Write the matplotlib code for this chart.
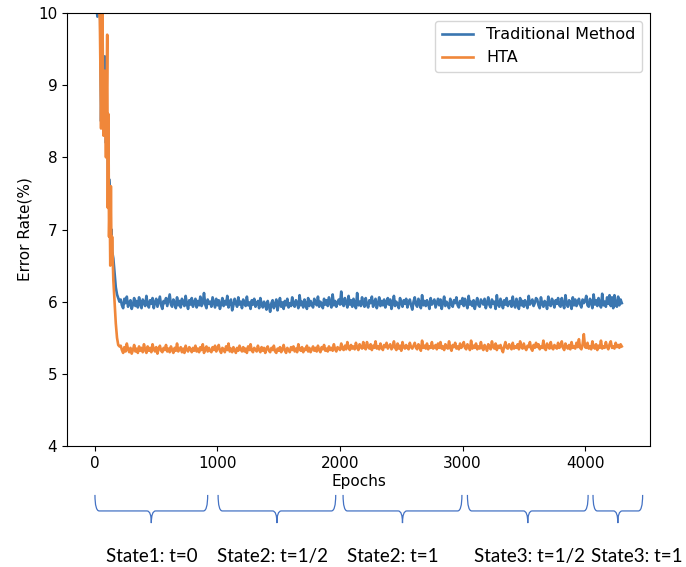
import matplotlib.pyplot as plt
import matplotlib.transforms as mtransforms
from matplotlib.path import Path
from matplotlib.patches import PathPatch
import numpy as np

# early descent (epochs, error %)
early_epochs = [0, 20, 40, 50, 60, 70, 80, 90, 100, 105, 110, 115, 120, 125, 130, 135,
                140, 150, 160, 170, 180, 190, 200]
early_trad = [10.3, 9.95, 10.5, 8.5, 9.6, 8.9, 9.4, 8.2, 8.6, 8.0, 7.3, 7.7, 7.6, 7.2, 6.9, 7.0,
              6.7, 6.6, 6.4, 6.2, 6.1, 6.05, 6.0]
early_hta = [10.6, 10.4, 9.9, 8.4, 10.2, 8.3, 9.2, 8.0, 9.7, 7.3, 8.6, 6.9, 7.4, 6.5, 7.6, 6.6,
             6.9, 6.3, 6.0, 5.7, 5.5, 5.4, 5.38]

# plateau, every 10 epochs from 210 to 4300
plateau_epochs = np.arange(210, 4301, 10)
plateau_trad = [
    6.03, 5.95, 5.91, 6.04, 5.98, 6.07, 5.93, 5.99, 6.02, 5.90, 5.96, 6.05, 5.94, 6.01, 5.92, 6.06, 5.97, 5.91, 6.03, 5.99,
    5.94, 6.08, 5.96, 5.92, 6.02, 5.97, 6.05, 5.91, 5.99, 6.04, 5.93, 6.00, 6.07, 5.95, 5.90, 6.01, 5.98, 6.05, 5.94, 6.02,
    6.10, 5.96, 5.93, 6.03, 5.99, 5.91, 6.06, 5.95, 6.01, 5.92, 6.04, 5.98, 5.94, 6.08, 5.97, 5.90, 6.02, 5.96, 6.05, 5.93,
    5.99, 6.04, 5.92, 6.01, 5.95, 6.07, 5.94, 5.98, 6.12, 5.96, 5.91, 6.03, 5.97, 6.00, 5.93, 6.06, 5.99, 5.92, 6.04, 5.95,
    6.02, 5.90, 5.97, 6.05, 5.94, 6.01, 5.96, 6.08, 5.92, 5.99, 6.03, 5.88, 5.95, 6.04, 5.98, 5.93, 6.06, 5.96, 6.00, 5.91,
    6.03, 5.97, 5.94, 6.07, 5.95, 5.99, 5.90, 6.02, 5.96, 6.04, 5.93, 5.98, 6.01, 5.91, 6.05, 5.97, 5.92, 6.00, 5.95, 5.89,
    6.01, 5.94, 5.86, 5.98, 6.02, 5.91, 5.96, 6.03, 5.88, 5.97, 6.05, 5.93, 5.99, 5.90, 6.01, 5.95, 6.04, 5.92, 5.98, 5.94,
    6.06, 5.96, 5.93, 6.02, 5.98, 5.91, 6.09, 5.95, 6.00, 5.92, 6.03, 5.97, 5.90, 6.05, 5.94, 6.01, 5.96, 5.92, 6.04, 5.98,
    5.95, 6.07, 5.93, 6.00, 5.97, 5.91, 6.04, 5.96, 6.02, 5.94, 6.06, 5.98, 5.92, 6.10, 5.95, 6.01, 5.93, 5.99, 6.03, 5.96,
    6.14, 5.97, 5.94, 6.05, 5.99, 5.92, 6.08, 5.96, 6.02, 5.93, 6.04, 5.98, 5.91, 6.12, 5.95, 6.00, 5.94, 6.06, 5.97, 5.93,
    6.05, 5.96, 5.92, 6.02, 5.98, 6.07, 5.93, 5.99, 6.04, 5.91, 5.97, 6.06, 5.94, 6.01, 5.95, 6.03, 5.92, 5.98, 6.05, 5.96,
    6.03, 5.90, 5.97, 6.08, 5.94, 6.00, 5.96, 5.91, 6.05, 5.98, 5.93, 6.02, 5.97, 6.04, 5.92, 5.99, 6.03, 5.95, 5.89, 6.00,
    6.06, 5.96, 5.93, 6.04, 5.98, 5.91, 6.09, 5.95, 6.01, 5.94, 6.02, 5.97, 5.90, 6.05, 5.96, 5.99, 6.03, 5.92, 5.98, 6.04,
    5.95, 6.03, 5.90, 5.98, 6.07, 5.94, 6.00, 5.96, 5.91, 6.04, 5.97, 5.93, 6.02, 5.98, 6.06, 5.95, 5.92, 6.01, 5.97, 6.05,
    5.94, 6.04, 5.97, 5.91, 6.08, 5.96, 6.00, 5.94, 6.02, 5.90, 5.98, 6.05, 5.95, 5.93, 6.03, 5.99, 5.96, 6.04, 5.91, 5.98,
    6.06, 5.95, 5.92, 6.03, 5.97, 6.00, 5.90, 6.09, 5.96, 5.93, 6.04, 5.98, 5.91, 6.02, 5.96, 6.05, 5.94, 5.99, 6.01, 5.93,
    6.07, 5.96, 5.92, 6.04, 5.98, 5.90, 6.05, 5.95, 6.01, 5.93, 6.02, 5.97, 5.91, 6.08, 5.96, 5.99, 6.03, 5.94, 5.98, 6.05,
    6.03, 5.95, 5.91, 6.06, 5.97, 5.93, 6.01, 5.98, 5.90, 6.07, 5.96, 5.94, 6.04, 5.99, 5.92, 6.02, 5.97, 6.05, 5.95, 5.93,
    6.05, 5.96, 5.91, 6.09, 5.97, 5.93, 6.02, 5.99, 5.90, 6.06, 5.95, 6.03, 5.94, 5.98, 6.04, 5.96, 5.92, 6.03, 5.98, 6.01,
    6.08, 5.95, 5.93, 6.04, 5.99, 5.91, 6.10, 5.96, 6.02, 5.94, 6.05, 5.98, 5.92, 6.11, 5.95, 6.00, 5.93, 6.06, 5.97, 6.09,
    5.94, 6.06, 5.91, 6.09, 5.96, 5.93, 6.07, 5.95, 6.03, 5.98,
]
plateau_hta = [
    5.39, 5.33, 5.29, 5.37, 5.31, 5.42, 5.34, 5.30, 5.36, 5.28, 5.33, 5.40, 5.31, 5.35, 5.29, 5.38, 5.32, 5.36, 5.30, 5.41,
    5.33, 5.29, 5.38, 5.32, 5.36, 5.30, 5.41, 5.34, 5.31, 5.37, 5.28, 5.35, 5.39, 5.32, 5.30, 5.36, 5.33, 5.40, 5.31, 5.35,
    5.30, 5.38, 5.33, 5.29, 5.36, 5.32, 5.42, 5.31, 5.34, 5.37, 5.30, 5.35, 5.29, 5.39, 5.33, 5.31, 5.37, 5.34, 5.30, 5.36,
    5.32, 5.39, 5.31, 5.35, 5.30, 5.37, 5.33, 5.41, 5.29, 5.34, 5.38, 5.31, 5.36, 5.32, 5.30, 5.37, 5.33, 5.39, 5.31, 5.35,
    5.40, 5.32, 5.29, 5.36, 5.34, 5.30, 5.38, 5.33, 5.42, 5.31, 5.35, 5.30, 5.37, 5.33, 5.29, 5.36, 5.32, 5.39, 5.34, 5.31,
    5.37, 5.31, 5.35, 5.29, 5.38, 5.33, 5.41, 5.32, 5.30, 5.36, 5.34, 5.31, 5.39, 5.33, 5.30, 5.37, 5.32, 5.36, 5.29, 5.35,
    5.38, 5.32, 5.30, 5.36, 5.33, 5.39, 5.31, 5.29, 5.35, 5.32, 5.37, 5.30, 5.34, 5.40, 5.32, 5.29, 5.36, 5.33, 5.30, 5.37,
    5.33, 5.38, 5.31, 5.35, 5.30, 5.41, 5.34, 5.32, 5.37, 5.30, 5.35, 5.33, 5.39, 5.31, 5.36, 5.30, 5.34, 5.38, 5.32, 5.36,
    5.31, 5.39, 5.33, 5.30, 5.37, 5.34, 5.40, 5.32, 5.35, 5.31, 5.38, 5.33, 5.36, 5.32, 5.41, 5.34, 5.31, 5.37, 5.35, 5.33,
    5.42, 5.35, 5.33, 5.39, 5.34, 5.44, 5.36, 5.33, 5.40, 5.35, 5.38, 5.34, 5.43, 5.36, 5.33, 5.41, 5.37, 5.35, 5.44, 5.36,
    5.34, 5.44, 5.37, 5.35, 5.41, 5.33, 5.39, 5.36, 5.45, 5.35, 5.38, 5.34, 5.42, 5.36, 5.33, 5.40, 5.37, 5.43, 5.35, 5.38,
    5.41, 5.34, 5.37, 5.45, 5.36, 5.33, 5.42, 5.35, 5.39, 5.32, 5.44, 5.37, 5.35, 5.40, 5.36, 5.34, 5.43, 5.37, 5.35, 5.39,
    5.43, 5.36, 5.34, 5.41, 5.37, 5.32, 5.46, 5.36, 5.39, 5.35, 5.42, 5.34, 5.38, 5.36, 5.44, 5.35, 5.37, 5.40, 5.34, 5.42,
    5.36, 5.44, 5.35, 5.38, 5.33, 5.41, 5.37, 5.35, 5.45, 5.36, 5.32, 5.40, 5.37, 5.43, 5.35, 5.38, 5.34, 5.42, 5.36, 5.39,
    5.44, 5.36, 5.34, 5.41, 5.37, 5.33, 5.46, 5.35, 5.39, 5.36, 5.42, 5.34, 5.38, 5.35, 5.44, 5.36, 5.33, 5.40, 5.37, 5.32,
    5.41, 5.36, 5.34, 5.45, 5.37, 5.35, 5.42, 5.33, 5.39, 5.36, 5.40, 5.34, 5.30, 5.38, 5.44, 5.36, 5.35, 5.41, 5.37, 5.34,
    5.43, 5.35, 5.38, 5.36, 5.41, 5.34, 5.45, 5.37, 5.35, 5.42, 5.36, 5.33, 5.39, 5.37, 5.44, 5.35, 5.32, 5.40, 5.36, 5.43,
    5.37, 5.41, 5.34, 5.38, 5.36, 5.46, 5.35, 5.33, 5.42, 5.37, 5.35, 5.44, 5.36, 5.34, 5.40, 5.37, 5.35, 5.43, 5.36, 5.38,
    5.45, 5.36, 5.33, 5.42, 5.37, 5.35, 5.40, 5.34, 5.44, 5.36, 5.38, 5.35, 5.43, 5.37, 5.48, 5.36, 5.34, 5.41, 5.55, 5.37,
    5.36, 5.43, 5.35, 5.38, 5.34, 5.45, 5.37, 5.35, 5.41, 5.33, 5.39, 5.36, 5.46, 5.35, 5.38, 5.36, 5.44, 5.37, 5.34, 5.41,
    5.45, 5.36, 5.38, 5.35, 5.43, 5.37, 5.40, 5.36, 5.41, 5.38,
]

# training states along the epoch axis
state_labels = ['State1: t=0', 'State2: t=1/2', 'State2: t=1', 'State3: t=1/2', 'State3: t=1']
state_start = [0, 1005, 2025, 3040, 4065]
state_end = [920, 1965, 2995, 4025, 4470]
label_pos = [465, 1445, 2433, 3543, 4425]

epochs = np.concatenate([early_epochs, plateau_epochs])
trad = np.concatenate([early_trad, plateau_trad])
hta = np.concatenate([early_hta, plateau_hta])

fig = plt.figure(figsize=(6.86, 5.67), dpi=100)
ax = fig.add_axes([0.0977, 0.2134, 0.8498, 0.7636])

ax.plot(epochs, trad, color='#3a76b0', lw=1.9, label='Traditional Method')
ax.plot(epochs, hta, color='#f0873a', lw=1.9, label='HTA')

ax.set_xlim(-228, 4530)
ax.set_ylim(4, 10)
ax.set_xticks([0, 1000, 2000, 3000, 4000])
ax.tick_params(labelsize=11)
ax.set_xlabel('Epochs', fontsize=11, labelpad=2)
ax.set_ylabel('Error Rate(%)', fontsize=11)
ax.legend(loc='upper right', fontsize=11.5)

# curly braces under the axis
trans = mtransforms.blended_transform_factory(ax.transData, ax.transAxes)
y_top, y_mid, y_tip = -0.113, -0.150, -0.178
r = 35
for x0, x1 in zip(state_start, state_end):
    xc = (x0 + x1) / 2
    verts = [(x0, y_top), (x0, y_mid), (x0 + r, y_mid),
             (xc - r, y_mid), (xc, y_mid), (xc, y_tip),
             (xc, y_tip), (xc, y_mid), (xc + r, y_mid),
             (x1 - r, y_mid), (x1, y_mid), (x1, y_top)]
    codes = [Path.MOVETO, Path.CURVE3, Path.CURVE3,
             Path.LINETO, Path.CURVE3, Path.CURVE3,
             Path.MOVETO, Path.CURVE3, Path.CURVE3,
             Path.LINETO, Path.CURVE3, Path.CURVE3]
    ax.add_patch(PathPatch(Path(verts, codes), fill=False, edgecolor='#4472c4',
                           lw=0.9, transform=trans, clip_on=False))

for xl, lab in zip(label_pos, state_labels):
    ax.text(xl, -0.255, lab, transform=trans, ha='center', va='center',
            fontsize=13.5, family=['Lato', 'DejaVu Sans'], clip_on=False)

fig.savefig('out.png', dpi=100)
